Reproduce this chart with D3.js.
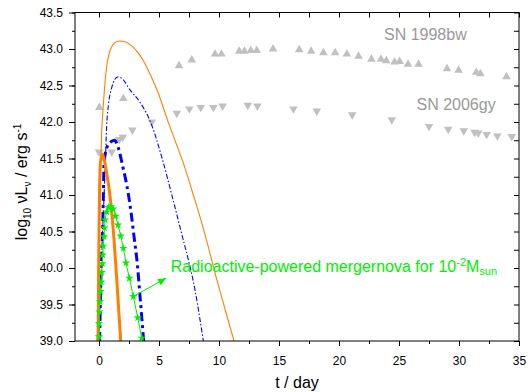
<!DOCTYPE html>
<html><head><meta charset="utf-8">
<script src="https://cdn.jsdelivr.net/npm/d3@7"></script>
<style>body{margin:0;background:#fff}svg{display:block;font-family:"Liberation Sans",Arial,sans-serif}</style>
</head><body><svg id="c" width="529" height="392"></svg>
<script>
// ---- data ----
const xMajorTicks = [0, 5, 10, 15, 20, 25, 30, 35];
const yMajorTicks = [39.0, 39.5, 40.0, 40.5, 41.0, 41.5, 42.0, 42.5, 43.0, 43.5];

const sn1998bwT = [0.03, 2.03, 6.67, 7.73, 9.67, 10.2, 11.68, 12.12, 12.65, 13.15, 14.5, 16.68, 17.68, 18.7, 19.68, 20.66, 21.63, 22.7, 23.5, 23.94, 24.63, 25.05, 25.75, 26.63, 29.0, 29.97, 31.44, 31.78, 33.95];
const sn1998bwL = [42.20, 42.32, 42.77, 42.85, 42.93, 42.93, 42.97, 42.97, 42.98, 42.98, 43.0, 42.99, 42.97, 42.95, 42.95, 42.93, 42.9, 42.86, 42.86, 42.84, 42.82, 42.83, 42.79, 42.79, 42.73, 42.71, 42.68, 42.66, 42.62];

const sn2006gyT = [0.0, 1.06, 1.69, 1.98, 2.78, 4.4, 6.48, 7.53, 8.48, 9.53, 10.3, 12.4, 13.2, 16.2, 18.15, 21.1, 24.4, 27.5, 29.1, 30.4, 31.3, 31.6, 32.3, 33.2, 34.4];
const sn2006gyL = [41.59, 41.59, 41.76, 41.79, 41.89, 42.0, 42.12, 42.18, 42.2, 42.2, 42.22, 42.23, 42.22, 42.18, 42.15, 42.1, 42.03, 41.94, 41.9, 41.88, 41.86, 41.85, 41.83, 41.81, 41.80];

const thinOrangeT = [-0.17, -0.12, -0.04, 0.03, 0.08, 0.14, 0.22, 0.33, 0.45, 0.64, 0.83, 1.06, 1.33, 1.75, 2.17, 2.67, 3.2, 3.7, 4.3, 4.95, 5.7, 6.4, 7.0, 7.9, 8.9, 9.8, 10.6, 11.25];
const thinOrangeL = [39.0, 39.1, 39.7, 40.38, 40.93, 41.34, 41.85, 42.16, 42.44, 42.76, 42.93, 43.03, 43.09, 43.11, 43.10, 43.05, 42.96, 42.84, 42.64, 42.39, 42.03, 41.72, 41.45, 40.98, 40.42, 39.85, 39.38, 39.0];

const thinBlueT = [-0.02, 0.12, 0.25, 0.4, 0.52, 0.64, 0.8, 1.06, 1.3, 1.6, 2.0, 2.58, 3.42, 4.39, 5.23, 6.1, 7.03, 7.45, 8.0, 8.42, 8.7];
const thinBlueL = [39.0, 39.6, 40.3, 40.9, 41.4, 41.95, 42.25, 42.47, 42.58, 42.62, 42.58, 42.44, 42.27, 41.96, 41.52, 40.98, 40.38, 40.11, 39.7, 39.29, 39.0];

const thickBlueT = [0.05, 0.12, 0.22, 0.31, 0.36, 0.42, 0.6, 0.92, 1.3, 1.6, 1.98, 2.44, 2.72, 2.92, 3.19, 3.42, 3.72];
const thickBlueL = [39.0, 39.6, 40.2, 40.57, 40.98, 41.43, 41.62, 41.72, 41.75, 41.65, 41.39, 41.02, 40.70, 40.43, 40.06, 39.61, 39.0];

const thickOrangeT = [-0.08, -0.04, 0.0, 0.05, 0.12, 0.28, 0.45, 0.64, 0.92, 1.19, 1.48, 1.81];
const thickOrangeL = [39.0, 39.8, 40.5, 41.1, 41.45, 41.56, 41.47, 41.3, 40.98, 40.52, 39.84, 39.0];

const greenT = [0.0, 0.0, 0.03, 0.08, 0.14, 0.17, 0.22, 0.28, 0.31, 0.36, 0.42, 0.46, 0.5, 0.64, 0.8, 0.98, 1.17, 1.38, 1.58, 1.81, 2.03, 2.25, 2.53, 2.86, 3.23, 3.56];
const greenL = [39.06, 39.24, 39.40, 39.54, 39.68, 39.81, 39.94, 40.06, 40.18, 40.30, 40.43, 40.55, 40.66, 40.77, 40.83, 40.84, 40.81, 40.71, 40.59, 40.44, 40.27, 40.07, 39.86, 39.61, 39.32, 39.04];

// ---- layout ----
const svg = d3.select("#c");
const PL = 75, PR = 519, PT = 12.5, PB = 341;
const x = d3.scaleLinear().domain([-2, 35]).range([PL, PR]);
const y = d3.scaleLinear().domain([39, 43.5]).range([PB, PT]);
const zip = (a, b) => a.map((v, i) => [v, b[i]]);

svg.append("defs").append("clipPath").attr("id", "clip")
  .append("rect").attr("x", PL).attr("y", PT).attr("width", PR - PL).attr("height", PB - PT);

const plot = svg.append("g").attr("clip-path", "url(#clip)");

const xMinor = d3.range(-2.5, 35.01, 2.5).filter(v => v >= -2);
const yMinor = d3.range(39, 43.51, 0.25);

// bottom axis
const gBottom = svg.append("g").attr("transform", `translate(0,${PB})`)
  .call(d3.axisBottom(x).tickValues(xMinor).tickSize(3).tickFormat(""));
gBottom.select(".domain").remove();
const gBottomMaj = svg.append("g").attr("transform", `translate(0,${PB})`)
  .call(d3.axisBottom(x).tickValues(xMajorTicks).tickSize(5).tickPadding(10).tickFormat(d3.format("d")));
gBottomMaj.select(".domain").remove();
gBottomMaj.selectAll("text").attr("font-size", 12).attr("fill", "#000").attr("font-family", "Liberation Sans, Arial, sans-serif");

// top axis (inward)
const gTop = svg.append("g").attr("transform", `translate(0,${PT})`)
  .call(d3.axisBottom(x).tickValues(xMinor).tickSize(5).tickFormat(""));
gTop.select(".domain").remove();

// left axis
const gLeftMin = svg.append("g").attr("transform", `translate(${PL},0)`)
  .call(d3.axisLeft(y).tickValues(yMinor).tickSize(3).tickFormat(""));
gLeftMin.select(".domain").remove();
const gLeftMaj = svg.append("g").attr("transform", `translate(${PL},0)`)
  .call(d3.axisLeft(y).tickValues(yMajorTicks).tickSize(6).tickPadding(6).tickFormat(d3.format(".1f")));
gLeftMaj.select(".domain").remove();
gLeftMaj.selectAll("text").attr("font-size", 12).attr("fill", "#000").attr("font-family", "Liberation Sans, Arial, sans-serif");

// right axis (inward)
const gRight = svg.append("g").attr("transform", `translate(${PR},0)`)
  .call(d3.axisRight(y).tickValues(yMinor).tickSize(-5).tickFormat(""));
gRight.select(".domain").remove();

// frame
svg.append("rect").attr("x", PL).attr("y", PT).attr("width", PR - PL).attr("height", PB - PT)
  .attr("fill", "none").attr("stroke", "#000").attr("stroke-width", 1);

// SN data
const grey = "#c0c0c0";
plot.selectAll(".up").data(zip(sn1998bwT, sn1998bwL)).join("path")
  .attr("d", d3.symbol(d3.symbolTriangle, 32))
  .attr("transform", d => `translate(${x(d[0])},${y(d[1])})`).attr("fill", grey);
plot.selectAll(".dn").data(zip(sn2006gyT, sn2006gyL)).join("path")
  .attr("d", d3.symbol(d3.symbolTriangle, 32))
  .attr("transform", d => `translate(${x(d[0])},${y(d[1])}) rotate(180)`).attr("fill", grey);

// model curves
const line = d3.line().x(d => x(d[0])).y(d => y(d[1])).curve(d3.curveMonotoneX);
const orange = "#ff8000", blue = "#0000ff", green = "#00ee00";
plot.append("path").attr("d", line(zip(thinOrangeT, thinOrangeL)))
  .attr("fill", "none").attr("stroke", orange).attr("stroke-width", 1.1);
plot.append("path").attr("d", line(zip(thinBlueT, thinBlueL)))
  .attr("fill", "none").attr("stroke", blue).attr("stroke-width", 1.1).attr("stroke-dasharray", "5,2,1.5,2");
plot.append("path").attr("d", line(zip(thickBlueT, thickBlueL)))
  .attr("fill", "none").attr("stroke", blue).attr("stroke-width", 3).attr("stroke-dasharray", "9,4,3,4");
plot.append("path").attr("d", line(zip(thickOrangeT, thickOrangeL)))
  .attr("fill", "none").attr("stroke", orange).attr("stroke-width", 3);
plot.append("path").attr("d", d3.line().x(d => x(d[0])).y(d => y(d[1]))(zip(greenT, greenL)))
  .attr("fill", "none").attr("stroke", green).attr("stroke-width", 1);
plot.selectAll(".star").data(zip(greenT, greenL)).join("path")
  .attr("d", d3.symbol(d3.symbolStar, 22))
  .attr("transform", d => `translate(${x(d[0])},${y(d[1])})`).attr("fill", green);

// annotation arrow
const ax0 = x(2.81), ay0 = y(39.607), ax1 = x(5.59), ay1 = y(39.86);
svg.append("line").attr("x1", ax0).attr("y1", ay0).attr("x2", ax1).attr("y2", ay1)
  .attr("stroke", green).attr("stroke-width", 1);
const ang = Math.atan2(ay1 - ay0, ax1 - ax0) * 180 / Math.PI;
svg.append("path").attr("d", "M0,0 L-8,-3.5 L-8,3.5 Z").attr("fill", green)
  .attr("transform", `translate(${ax1},${ay1}) rotate(${ang})`);

const ann = svg.append("text").attr("x", x(5.98)).attr("y", y(39.95))
  .attr("fill", green).attr("font-size", 16);
ann.append("tspan").text("Radioactive-powered mergernova for 10");
ann.append("tspan").attr("dy", -6).attr("font-size", 11).text("-2");
ann.append("tspan").attr("dy", 6).text("M");
ann.append("tspan").attr("dy", 3).attr("font-size", 11).text("sun");

// SN labels
svg.append("text").attr("x", 384).attr("y", 39.5).attr("fill", "#999").attr("font-size", 16).text("SN 1998bw");
svg.append("text").attr("x", 416.5).attr("y", 110).attr("fill", "#999").attr("font-size", 16).text("SN 2006gy");

// axis titles
svg.append("text").attr("x", (PL + PR) / 2).attr("y", 388).attr("text-anchor", "middle")
  .attr("font-size", 16).attr("fill", "#000").text("t / day");
const yl = svg.append("text").attr("transform", "translate(27,182) rotate(-90)")
  .attr("text-anchor", "middle").attr("font-size", 16).attr("fill", "#000");
yl.append("tspan").text("log");
yl.append("tspan").attr("dy", 4).attr("font-size", 10).text("10");
yl.append("tspan").attr("dy", -4).text(" νL");
yl.append("tspan").attr("dy", 4).attr("font-size", 10).text("ν");
yl.append("tspan").attr("dy", -4).text(" / erg s");
yl.append("tspan").attr("dy", -6).attr("font-size", 10).text("-1");
</script></body></html>
